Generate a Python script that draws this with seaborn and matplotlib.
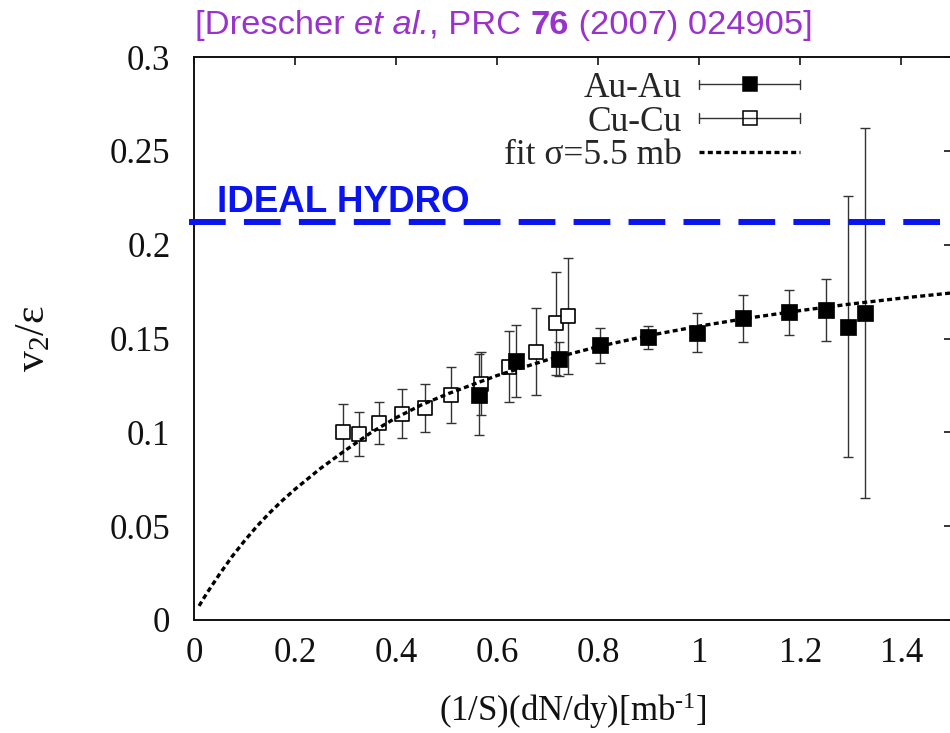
import matplotlib
matplotlib.use('Agg')
import matplotlib.pyplot as plt
import seaborn as sns
import pandas as pd
from matplotlib.lines import Line2D
from matplotlib.legend_handler import HandlerBase

# ---------------- data ----------------
au_x = [0.564, 0.637, 0.7215, 0.804, 0.898, 0.995, 1.0865, 1.178, 1.250, 1.295, 1.327]
au_y = [0.120, 0.138, 0.139, 0.1465, 0.1506, 0.1531, 0.1607, 0.1641, 0.1652, 0.1563, 0.1634]
au_err = [0.0215, 0.019, 0.009, 0.0093, 0.006, 0.0105, 0.0125, 0.012, 0.0167, 0.0694, 0.0986]

cu_x = [0.295, 0.327, 0.366, 0.411, 0.457, 0.508, 0.568, 0.624, 0.677, 0.716, 0.741]
cu_y = [0.100, 0.099, 0.105, 0.110, 0.113, 0.120, 0.126, 0.135, 0.143, 0.158, 0.162]
cu_err = [0.0153, 0.0117, 0.0112, 0.013, 0.0128, 0.015, 0.017, 0.019, 0.023, 0.0275, 0.031]

fit_x = [0.01, 0.025, 0.05, 0.075, 0.1, 0.125, 0.15, 0.175, 0.2, 0.25, 0.3, 0.35,
         0.4, 0.45, 0.5, 0.6, 0.7, 0.8, 0.9, 1.0, 1.1, 1.2, 1.3, 1.4, 1.5]
fit_y = [0.0075, 0.0141, 0.0242, 0.0337, 0.0422, 0.0501, 0.0572, 0.0637, 0.0697,
         0.0807, 0.0905, 0.0998, 0.1078, 0.1146, 0.1203, 0.1303, 0.1387, 0.1457,
         0.1516, 0.1566, 0.1610, 0.1649, 0.1684, 0.1715, 0.1743]

hydro_y = 0.212

x_ticks = [0, 0.2, 0.4, 0.6, 0.8, 1.0, 1.2, 1.4]
x_tick_labels = ['0', '0.2', '0.4', '0.6', '0.8', '1', '1.2', '1.4']
y_ticks = [0, 0.05, 0.1, 0.15, 0.2, 0.25, 0.3]
y_tick_labels = ['0', '0.05', '0.1', '0.15', '0.2', '0.25', '0.3']

legend_labels = ['Au-Au', 'Cu-Cu', 'fit σ=5.5 mb']
title_parts = [('[Drescher ', 'normal', 'normal'), ('et al.', 'italic', 'normal'),
               (', PRC ', 'normal', 'normal'), ('76', 'normal', 'bold'),
               (' (2007) 024905]', 'normal', 'normal')]
hydro_text = 'IDEAL HYDRO'

# ---------------- style ----------------
sns.set_theme(style='white')
plt.rcParams['font.family'] = ['Liberation Serif', 'DejaVu Serif']
plt.rcParams['mathtext.fontset'] = 'custom'
plt.rcParams['mathtext.rm'] = 'Liberation Serif'
plt.rcParams['mathtext.it'] = 'Liberation Serif:italic'
plt.rcParams['mathtext.bf'] = 'Liberation Serif:bold'

ECOL = '#333333'
BLUE = '#0a14f0'
PURPLE = '#9933cc'
FS = 25
LFS = 25.5

W, H = 950, 733
fig = plt.figure(figsize=(W / 100, H / 100), dpi=100)
ax = fig.add_axes([194 / W, 113 / H, 758 / W, 563 / H])

au = pd.DataFrame({'x': au_x, 'y': au_y, 'e': au_err})
cu = pd.DataFrame({'x': cu_x, 'y': cu_y, 'e': cu_err})
fit = pd.DataFrame({'x': fit_x, 'y': fit_y})

# error bars
for d in (cu, au):
    ax.errorbar(d['x'], d['y'], yerr=d['e'], fmt='none', ecolor=ECOL,
                elinewidth=1.0, capsize=3.5, capthick=1.0, zorder=2)

# markers
sns.scatterplot(data=cu, x='x', y='y', marker='s', s=105, facecolor='white',
                edgecolor='black', linewidth=1.2, ax=ax, zorder=3, legend=False)
sns.scatterplot(data=au, x='x', y='y', marker='s', s=120, color='black',
                edgecolor='black', linewidth=0.5, ax=ax, zorder=3, legend=False)

# fit curve
sns.lineplot(data=fit, x='x', y='y', color='black', lw=2.4,
             linestyle=(0, (1.5, 1.0)), ax=ax, zorder=4, legend=False)

# ideal hydro limit
ax.axhline(hydro_y, xmin=-5 / 758, xmax=1.0, color=BLUE, lw=4.3,
           linestyle=(0, (6.15, 3.05)), clip_on=False, zorder=5)
ax.text(0.0455, 0.2175, hydro_text, family='Liberation Sans', weight='bold',
        size=26.5, color=BLUE, va='baseline', ha='left', zorder=6)

# axes
ax.set_xlim(0, 1.5)
ax.set_ylim(0, 0.3)
ax.set_xticks(x_ticks)
ax.set_xticklabels(x_tick_labels)
ax.set_yticks(y_ticks)
ax.set_yticklabels(y_tick_labels)
ax.tick_params(axis='both', direction='in', length=6, width=1.1, color='black',
               top=True, right=True, labelsize=FS, labelcolor='#111111')
ax.tick_params(axis='x', pad=12)
ax.tick_params(axis='y', pad=17)
for sp in ax.spines.values():
    sp.set_linewidth(1.4)
    sp.set_color('#111111')
ax.set_xlabel(r'(1/S)(dN/dy)[mb$^{\text{-1}}$]', fontsize=FS, labelpad=15,
              color='#111111')
ax.set_ylabel(r'v$_{2}$/ε', fontsize=30, labelpad=41, color='#111111')


# legend with gnuplot-style horizontal error bar samples
class HBarHandler(HandlerBase):
    def __init__(self, face, **kw):
        super().__init__(**kw)
        self.face = face

    def create_artists(self, legend, orig_handle, xdescent, ydescent, width,
                       height, fontsize, trans):
        y = (height - ydescent) / 2
        x0, x1 = -xdescent, width - xdescent
        cap = 3.4
        arts = [Line2D([x0, x1], [y, y], color=ECOL, lw=1.0),
                Line2D([x0, x0], [y - cap, y + cap], color=ECOL, lw=1.0),
                Line2D([x1, x1], [y - cap, y + cap], color=ECOL, lw=1.0),
                Line2D([(x0 + x1) / 2], [y], marker='s', ms=10.0, mfc=self.face,
                       mec='black', mew=1.1, ls='none')]
        for a in arts:
            a.set_transform(trans)
        return arts


h_au = Line2D([], [])
h_cu = Line2D([], [])
h_fit = Line2D([], [], color='black', lw=2.4, linestyle=(0, (1.5, 1.0)))
ax.legend([h_au, h_cu, h_fit], legend_labels,
          handler_map={h_au: HBarHandler('black'), h_cu: HBarHandler('none')},
          loc='upper right', bbox_to_anchor=(0.7995, 0.9737), frameon=False,
          markerfirst=False, handlelength=2.85, handletextpad=0.5,
          labelspacing=0.02, borderpad=0, borderaxespad=0, fontsize=LFS)

# title made of differently styled pieces, placed one after another
fig.canvas.draw()
renderer = fig.canvas.get_renderer()
tkw = dict(family='Liberation Sans', size=24.8, color=PURPLE, va='baseline', ha='left')


def piece_width(s, **kw):
    t1 = fig.text(0, 0, '|' + s + '|', **kw)
    t2 = fig.text(0, 0, '||', **kw)
    w = t1.get_window_extent(renderer).width - t2.get_window_extent(renderer).width
    t1.remove()
    t2.remove()
    return w


xpos = 195.0
for s, st, wt in title_parts:
    kw = dict(tkw, style=st, weight=wt)
    fig.text(xpos / W, 1 - 34 / H, s, **kw)
    xpos += piece_width(s, **kw)

fig.savefig('out.png', dpi=100)
